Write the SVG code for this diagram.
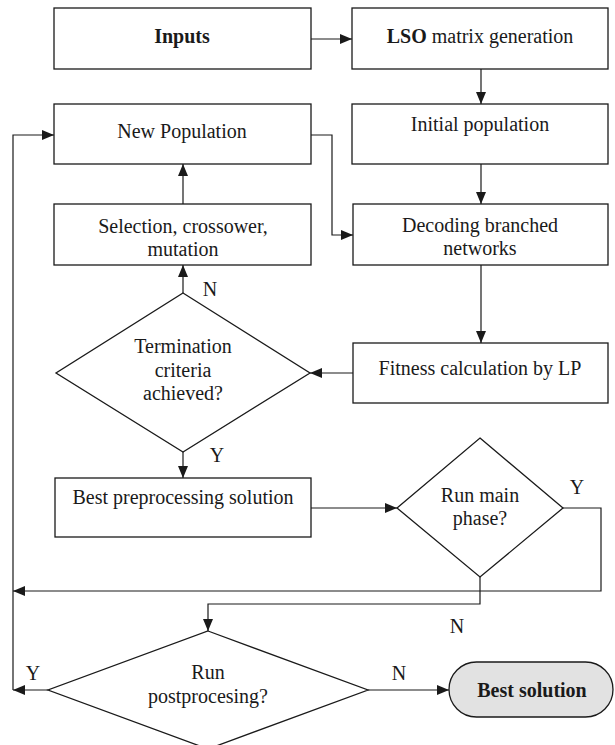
<svg xmlns="http://www.w3.org/2000/svg" width="615" height="745" viewBox="0 0 615 745">
<style>
.box{fill:#fff;stroke:#1a1a1a;stroke-width:1.3}
.term{fill:#e2e2e2;stroke:#1a1a1a;stroke-width:1.3}
.ln{fill:none;stroke:#1a1a1a;stroke-width:1.2}
text{font-family:"Liberation Serif","Times New Roman",serif;font-size:20px;fill:#1a1a1a;text-anchor:middle}
.b{font-weight:bold}
</style>
<defs>
<marker id="ah" markerUnits="userSpaceOnUse" markerWidth="12" markerHeight="10" refX="12" refY="5" orient="auto">
<path d="M0,0 L12,5 L0,10 z" fill="#1a1a1a"/>
</marker>
</defs>
<rect width="615" height="745" fill="#fff"/>
<g id="connectors">
<path class="ln" d="M311,39 H352" marker-end="url(#ah)"/>
<path class="ln" d="M481,69 V104" marker-end="url(#ah)"/>
<path class="ln" d="M481,164 V204" marker-end="url(#ah)"/>
<path class="ln" d="M311,135 H332 V235 H353" marker-end="url(#ah)"/>
<path class="ln" d="M481,265 V343" marker-end="url(#ah)"/>
<path class="ln" d="M353,373 H310" marker-end="url(#ah)"/>
<path class="ln" d="M183,293 V265" marker-end="url(#ah)"/>
<path class="ln" d="M183,204 V164" marker-end="url(#ah)"/>
<path class="ln" d="M183,452 V478" marker-end="url(#ah)"/>
<path class="ln" d="M311,508 H397" marker-end="url(#ah)"/>
<path class="ln" d="M563,508 H601 V591 H13" marker-end="url(#ah)"/>
<path class="ln" d="M480,577 V604 H208 V631" marker-end="url(#ah)"/>
<path class="ln" d="M48,690 H13" marker-end="url(#ah)"/>
<path class="ln" d="M13,690 V135 H54" marker-end="url(#ah)"/>
<path class="ln" d="M368,690 H449" marker-end="url(#ah)"/>
<text x="210" y="296">N</text>
<text x="217" y="462">Y</text>
<text x="577" y="494">Y</text>
<text x="457" y="633">N</text>
<text x="33" y="680">Y</text>
<text x="399" y="680">N</text>
</g>
<g id="inputs">
<rect class="box" x="54" y="8" width="257" height="61"/>
<text class="b" x="182" y="43">Inputs</text>
</g>
<g id="lso">
<rect class="box" x="352" y="8" width="256" height="61"/>
<text x="480" y="43"><tspan class="b">LSO</tspan> matrix generation</text>
</g>
<g id="initial-population">
<rect class="box" x="352" y="104" width="256" height="60"/>
<text x="480" y="131">Initial population</text>
</g>
<g id="new-population">
<rect class="box" x="54" y="104" width="257" height="60"/>
<text x="182" y="138">New Population</text>
</g>
<g id="selection">
<rect class="box" x="54" y="204" width="257" height="61"/>
<text x="183" y="233">Selection, crossower,</text>
<text x="183" y="256">mutation</text>
</g>
<g id="decoding">
<rect class="box" x="353" y="204" width="255" height="61"/>
<text x="480" y="232">Decoding branched</text>
<text x="480" y="255">networks</text>
</g>
<g id="fitness">
<rect class="box" x="353" y="343" width="255" height="60"/>
<text x="480" y="375">Fitness calculation by LP</text>
</g>
<g id="termination">
<polygon class="box" points="183,293 310,373 183,452 56,373"/>
<text x="183" y="353">Termination</text>
<text x="183" y="377">criteria</text>
<text x="183" y="400">achieved?</text>
</g>
<g id="best-preprocessing">
<rect class="box" x="55" y="478" width="256" height="59"/>
<text x="183" y="504">Best preprocessing solution</text>
</g>
<g id="run-main">
<polygon class="box" points="480,438 563,508 480,577 397,508"/>
<text x="480" y="502">Run main</text>
<text x="480" y="525">phase?</text>
</g>
<g id="run-post">
<polygon class="box" points="208,631 368,690 208,749 48,690"/>
<text x="208" y="679">Run</text>
<text x="208" y="703">postprocesing?</text>
</g>
<g id="best-solution">
<rect class="term" x="449" y="662" width="164" height="55" rx="27.5" ry="27.5"/>
<text class="b" x="532" y="697">Best solution</text>
</g>
</svg>
